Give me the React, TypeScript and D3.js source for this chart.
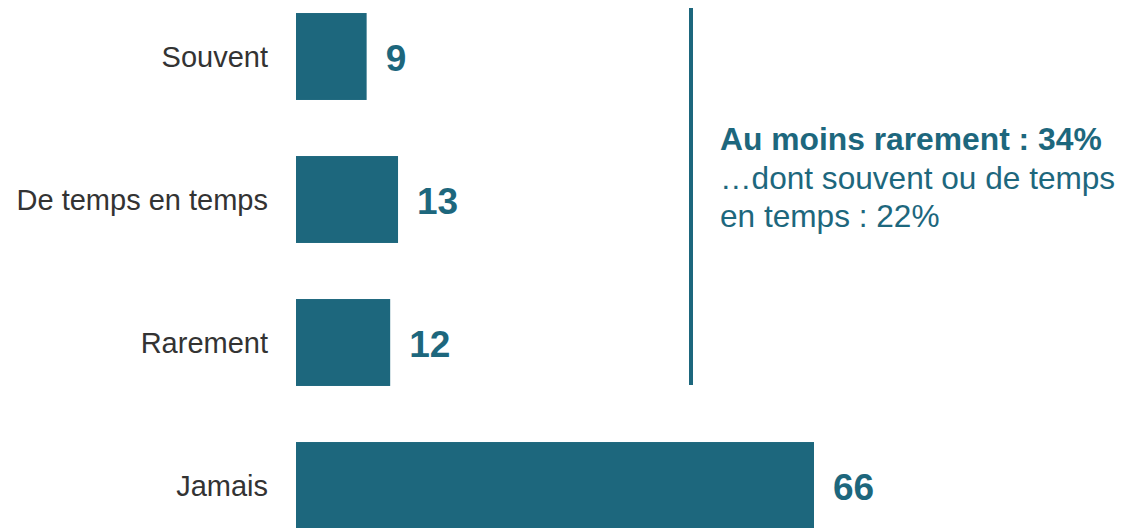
import React from "react";
import * as d3 from "d3";

const categories = ["Souvent", "De temps en temps", "Rarement", "Jamais"];
const values = [9, 13, 12, 66];
const summaryTitle = "Au moins rarement : 34%";
const summaryLines = ["…dont souvent ou de temps", "en temps : 22%"];

const W = 1125;
const H = 528;
const TEAL = "#1d677d";
const FONT = "'Liberation Sans', Arial, sans-serif";

export default function App() {
  const x = d3.scaleLinear().domain([0, 66]).range([296, 814]);
  const y = d3
    .scaleBand<string>()
    .domain(categories)
    .range([-15, 557])
    .paddingInner(0.392)
    .paddingOuter(0.196);
  const bw = y.bandwidth();

  return (
    <svg
      width={W}
      height={H}
      style={{ position: "absolute", left: 0, top: 0, background: "#fff" }}
      fontFamily={FONT}
    >
      {categories.map((c, i) => {
        const y0 = y(c)!;
        const cy = y0 + bw / 2;
        return (
          <g key={c}>
            <rect x={x(0)} y={y0} width={x(values[i]) - x(0)} height={bw} fill={TEAL} />
            <text
              x={268}
              y={cy}
              dy="0.35em"
              textAnchor="end"
              fontSize={29}
              fill="#333"
            >
              {c}
            </text>
            <text
              x={x(values[i]) + 19}
              y={cy + 2}
              dy="0.35em"
              fontSize={37}
              fontWeight="bold"
              fill={TEAL}
            >
              {values[i]}
            </text>
          </g>
        );
      })}
      <line x1={691} x2={691} y1={8} y2={385} stroke={TEAL} strokeWidth={4} />
      <text x={720} y={150} fontSize={31.8} fontWeight="bold" fill={TEAL}>
        {summaryTitle}
      </text>
      {summaryLines.map((l, i) => (
        <text key={i} x={720} y={189 + i * 38} fontSize={31.6} fill={TEAL}>
          {l}
        </text>
      ))}
    </svg>
  );
}
